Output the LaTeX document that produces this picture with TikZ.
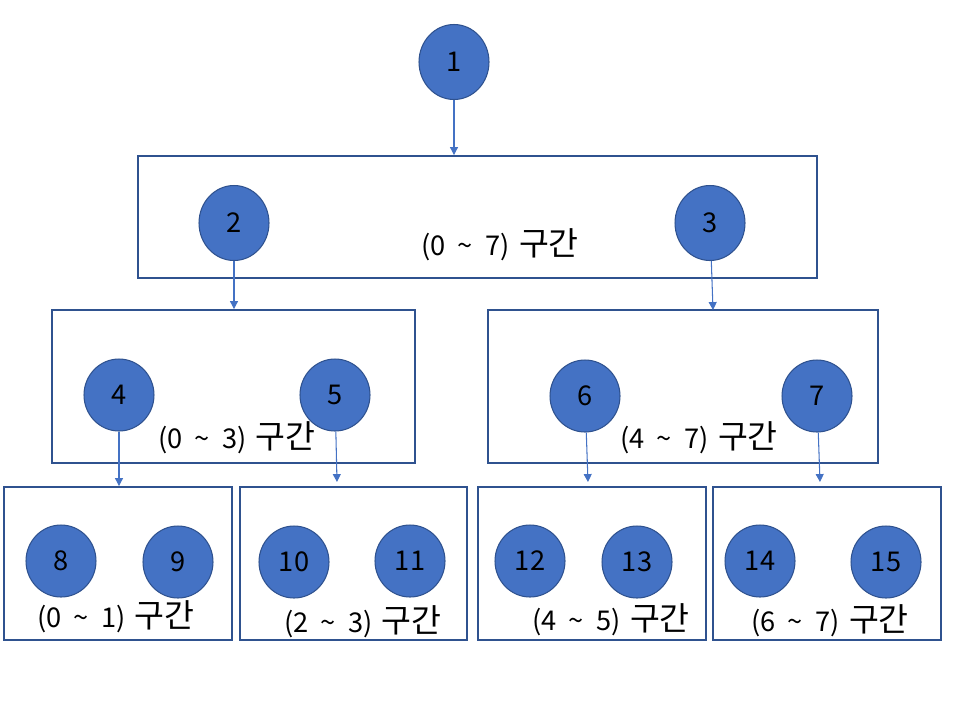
\documentclass[tikz,border=0pt]{standalone}
\usepackage{fontspec}
\setmainfont{Noto Sans CJK KR}
\usetikzlibrary{arrows.meta,shapes.geometric}
\definecolor{NodeBlue}{RGB}{68,114,196}
\definecolor{EdgeBlue}{RGB}{47,82,143}
\tikzset{
  >=Triangle,
  segnode/.style={ellipse,draw=EdgeBlue,line width=.6pt,fill=NodeBlue,text=black,font=\fontsize{15.5}{18}\selectfont,minimum width=1.4cm,minimum height=1.44cm,inner sep=0pt},
  topnode/.style={segnode,minimum height=1.5cm},
  rangebox/.style={draw=EdgeBlue,line width=1.1pt,fill=none},
  rangelabel/.style={font=\fontsize{15.5}{18}\selectfont,text=black},
  link/.style={-{Triangle[length=4.5pt,width=4.5pt]},line width=.6pt,draw=NodeBlue}
}
\newcommand{\seg}[2]{(#1\hspace{.45em}\textasciitilde\hspace{.45em}#2)\hspace{.35em}{\fontsize{18.5}{20}\selectfont 구간}}

\begin{document}
\begin{tikzpicture}[x=.02cm,y=-.02cm]
  \useasboundingbox (0,0) rectangle (966,704);
  % ranges
  \node[rangebox,minimum width=13.58cm,minimum height=2.44cm] (r07) at (477.5,217) {};
  \node[rangebox,minimum width=7.26cm,minimum height=3.06cm] (r03) at (233.5,386.5) {};
  \node[rangebox,minimum width=7.8cm,minimum height=3.06cm] (r47) at (683,386.5) {};
  \node[rangebox,minimum width=4.56cm,minimum height=3.06cm] (r01) at (118,563.5) {};
  \node[rangebox,minimum width=4.54cm,minimum height=3.06cm] (r23) at (353.5,563.5) {};
  \node[rangebox,minimum width=4.56cm,minimum height=3.06cm] (r45) at (592,563.5) {};
  \node[rangebox,minimum width=4.56cm,minimum height=3.06cm] (r67) at (827,563.5) {};
  % tree nodes
  \node[topnode] (n1) at (454,62) {1};
  \node[topnode] (n2) at (234,223) {2};
  \node[topnode] (n3) at (710,223) {3};
  \node[segnode] (n4) at (119,395) {4};
  \node[segnode] (n5) at (335,395) {5};
  \node[segnode] (n6) at (585,396) {6};
  \node[segnode] (n7) at (817,396) {7};
  \node[segnode] (n8) at (61,561) {8};
  \node[segnode] (n9) at (178,562) {9};
  \node[segnode] (n10) at (294,562) {10};
  \node[segnode] (n11) at (410,561) {11};
  \node[segnode] (n12) at (530,561) {12};
  \node[segnode] (n13) at (637,562) {13};
  \node[segnode] (n14) at (760,561) {14};
  \node[segnode] (n15) at (886,562) {15};
  % labels
  \node[rangelabel] (l07) at (500,245) {\seg{0}{7}};
  \node[rangelabel] (l03) at (237,438) {\seg{0}{3}};
  \node[rangelabel] (l47) at (699,438) {\seg{4}{7}};
  \node[rangelabel] (l01) at (116,617) {\seg{0}{1}};
  \node[rangelabel] (l23) at (363,622) {\seg{2}{3}};
  \node[rangelabel] (l45) at (611,620) {\seg{4}{5}};
  \node[rangelabel] (l67) at (830,621) {\seg{6}{7}};
  % arrow ends
  \coordinate (e3) at (713,310);
  \coordinate (e5) at (337,482);
  \coordinate (e6) at (588,482);
  \coordinate (e7) at (820,482);
  \draw[link] (n1) -- (n1 |- r07.north);
  \draw[link] (n2) -- (n2 |- r03.north);
  \draw[link] (n3) -- (e3);
  \draw[link] (n4) -- (n4 |- r01.north);
  \draw[link] (n5) -- (e5);
  \draw[link] (n6) -- (e6);
  \draw[link] (n7) -- (e7);
\end{tikzpicture}
\end{document}
